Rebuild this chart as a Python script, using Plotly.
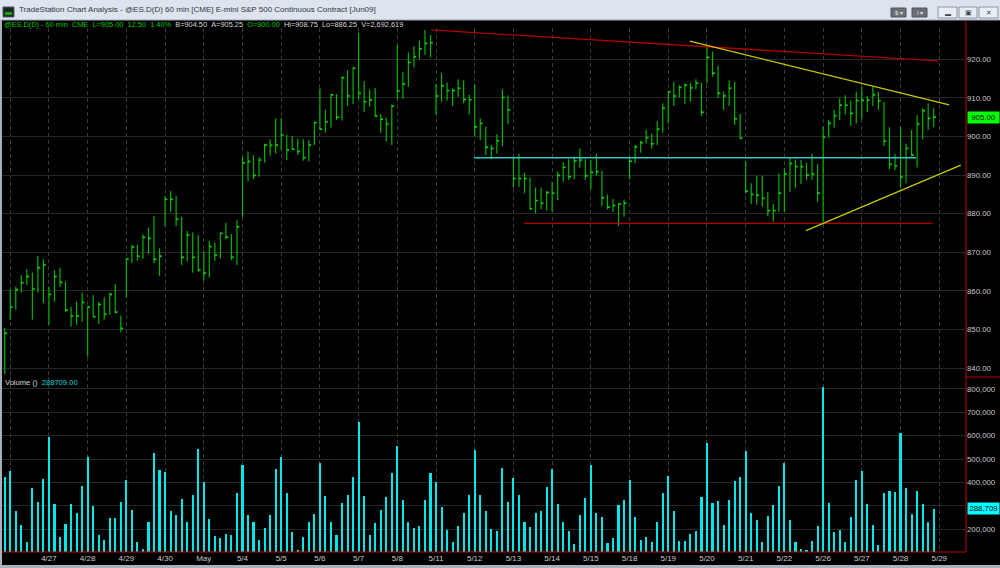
import plotly.graph_objects as go

# ---------------- data ----------------
highs = [850.3, 860.4, 861.1, 864.1, 865.6, 864.7, 869.0, 868.2, 861.1, 865.4,
         866.0, 862.4, 855.8, 857.2, 859.5, 855.9, 858.9, 857.2, 858.3, 859.5,
         861.8, 853.6, 868.4, 871.9, 871.9, 874.7, 876.4, 879.4, 871.0, 884.6,
         885.9, 884.6, 879.2, 875.5, 875.1, 874.5, 870.4, 872.9, 872.5, 875.1,
         877.6, 874.7, 878.3, 894.8, 896.1, 895.2, 894.6, 898.1, 899.3, 904.7,
         904.7, 900.4, 900.1, 899.5, 899.3, 899.1, 903.8, 912.5, 906.9, 911.0,
         911.0, 915.7, 917.2, 917.9, 926.9, 914.4, 912.2, 912.5, 905.8, 904.9,
         908.2, 923.7, 916.8, 921.8, 923.4, 924.8, 927.6, 926.3, 913.6, 916.4,
         914.0, 912.5, 914.8, 914.5, 910.8, 913.6, 904.7, 902.5, 897.8, 900.6,
         912.2, 910.7, 894.8, 895.5, 890.6, 889.4, 886.8, 886.8, 885.9, 888.3,
         890.9, 893.3, 894.1, 894.8, 896.8, 894.1, 893.9, 895.5, 891.1, 885.0,
         883.8, 882.7, 883.7, 894.8, 897.8, 898.9, 901.7, 900.8, 904.0, 908.6,
         911.8, 914.2, 913.3, 913.8, 913.9, 914.8, 913.9, 923.7, 922.0, 918.3,
         911.6, 914.5, 914.2, 905.8, 893.5, 887.9, 889.8, 889.8, 885.7, 882.5,
         890.5, 891.8, 894.6, 894.0, 893.9, 893.2, 895.5, 892.9, 902.5, 904.3,
         906.9, 909.9, 910.7, 909.3, 911.6, 912.9, 910.5, 912.9, 911.6, 909.0,
         902.4, 895.5, 902.5, 898.2, 901.7, 905.6, 907.3, 908.6, 907.3]
lows = [838.5, 852.5, 855.1, 859.5, 861.5, 852.6, 859.5, 856.9, 851.2, 857.2,
        861.1, 854.6, 850.7, 851.2, 852.0, 843.0, 853.3, 851.4, 852.6, 853.8,
        854.2, 849.3, 858.3, 867.3, 867.8, 868.3, 869.6, 867.2, 863.9, 876.8,
        880.5, 876.8, 866.7, 867.6, 864.7, 865.0, 862.6, 863.5, 867.8, 868.4,
        873.4, 868.0, 866.7, 879.2, 888.5, 888.9, 889.6, 893.2, 895.0, 895.5,
        896.5, 893.9, 896.5, 895.2, 893.7, 893.5, 897.8, 901.7, 901.0, 902.3,
        904.3, 904.1, 907.9, 908.4, 909.6, 906.4, 907.7, 905.1, 901.0, 898.7,
        897.8, 909.5, 909.7, 912.9, 917.9, 920.0, 921.1, 920.5, 905.7, 909.0,
        909.3, 907.9, 910.3, 908.6, 905.7, 900.0, 899.1, 895.2, 894.1, 895.6,
        897.5, 903.2, 886.8, 886.9, 885.3, 881.1, 880.1, 881.2, 880.8, 880.5,
        883.5, 888.3, 888.7, 888.9, 892.0, 888.7, 886.3, 889.8, 882.0, 881.1,
        880.5, 876.8, 879.2, 888.9, 893.1, 895.8, 898.2, 896.9, 897.8, 901.0,
        903.4, 907.9, 910.1, 908.4, 909.0, 912.2, 905.3, 913.8, 915.5, 909.9,
        906.9, 907.9, 903.0, 899.3, 885.3, 882.5, 882.3, 881.8, 879.4, 877.9,
        880.5, 880.5, 885.7, 886.6, 887.7, 888.7, 888.7, 883.1, 877.9, 899.7,
        902.3, 904.3, 905.7, 902.7, 903.4, 904.5, 906.4, 907.9, 907.0, 897.5,
        891.5, 891.3, 886.6, 887.9, 894.8, 892.0, 899.3, 901.7, 902.4]
closes = [849.0, 855.8, 860.3, 862.1, 863.7, 860.5, 866.0, 866.7, 859.1, 863.7,
          862.2, 855.0, 853.5, 853.5, 857.0, 855.8, 853.3, 856.5, 854.0, 859.1,
          854.5, 850.3, 868.3, 871.4, 869.0, 873.9, 873.6, 868.2, 869.0, 883.7,
          883.7, 878.6, 868.7, 874.5, 868.7, 865.4, 864.6, 871.5, 869.3, 874.9,
          873.9, 868.7, 876.6, 893.2, 893.5, 889.9, 893.9, 897.8, 897.7, 897.8,
          900.4, 896.5, 896.7, 896.1, 894.5, 897.8, 903.6, 901.9, 903.8, 910.8,
          905.0, 915.2, 910.5, 917.7, 911.2, 909.0, 909.5, 905.3, 904.5, 903.2,
          907.9, 911.8, 913.6, 919.2, 920.7, 922.7, 924.1, 924.3, 910.5, 913.1,
          911.9, 911.9, 912.5, 909.6, 909.5, 902.5, 903.4, 897.2, 896.9, 898.9,
          910.1, 906.9, 889.1, 889.1, 889.1, 881.3, 883.4, 882.7, 885.5, 885.3,
          889.9, 892.0, 889.6, 893.7, 893.9, 889.8, 890.7, 890.9, 884.1, 881.7,
          882.1, 882.5, 882.7, 893.6, 897.3, 898.4, 899.7, 898.1, 901.9, 907.3,
          911.6, 910.5, 912.7, 913.3, 912.6, 913.8, 906.3, 920.5, 916.4, 911.2,
          910.5, 912.5, 904.6, 899.6, 885.8, 885.0, 884.8, 884.0, 880.8, 880.8,
          885.3, 890.3, 893.0, 892.2, 892.2, 890.0, 890.3, 885.3, 899.8, 903.4,
          905.4, 908.1, 908.1, 906.0, 909.3, 909.4, 909.4, 910.8, 909.2, 898.8,
          892.8, 892.4, 889.5, 896.9, 895.2, 903.2, 906.7, 904.7, 905.0]
volumes = [425000, 450700, 279600, 218300, 147000, 375100, 315300, 413600, 593300, 306700,
           168400, 221200, 306700, 268200, 383700, 507700, 298200, 175500, 154200, 246800,
           246800, 318100, 410800, 282500, 144200, 117100, 232600, 524800, 455000, 445000,
           278200, 262500, 329500, 232600, 346600, 543400, 400800, 244000, 171300, 164100,
           179800, 176900, 353800, 474900, 259700, 229700, 152700, 204000, 259700, 457800,
           509200, 353800, 188400, 111400, 168400, 232600, 265400, 484900, 342300, 232600,
           176900, 313800, 346600, 422200, 660300, 342300, 176900, 226900, 282500, 336600,
           440700, 556200, 325200, 229700, 205500, 215500, 325200, 440700, 400800, 295300,
           196900, 145600, 212600, 271100, 345200, 539100, 345200, 276800, 202600, 192700,
           463500, 315300, 419300, 345200, 229700, 211200, 269600, 278200, 380800, 457800,
           306700, 229700, 191200, 135600, 259700, 335200, 474900, 268200, 252500, 141300,
           161300, 303900, 326700, 410800, 253900, 155600, 167000, 147000, 232600, 355200,
           427900, 276800, 149900, 149900, 179800, 194100, 338100, 567600, 312400, 320900,
           218300, 323800, 406500, 423600, 536300, 269600, 238300, 147000, 256800, 303900,
           385100, 483500, 241100, 147000, 115600, 111400, 149900, 212600, 810000, 312400,
           188400, 196900, 144200, 253900, 410800, 450700, 308100, 218300, 132800, 353800,
           365200, 359500, 613200, 375100, 265400, 362300, 308100, 232600, 288709]

# session starts (bar index) and their date labels
day_starts = [1 + 7 * k for k in range(25)]
day_labels = ["", "4/27", "4/28", "4/29", "4/30", "May", "5/4", "5/5", "5/6", "5/7",
              "5/8", "5/11", "5/12", "5/13", "5/14", "5/15", "5/18", "5/19", "5/20",
              "5/21", "5/22", "5/26", "5/27", "5/28", "5/29"]

price_ticks = [840, 850, 860, 870, 880, 890, 900, 910, 920]
volume_ticks = [200000, 300000, 400000, 500000, 600000, 700000, 800000]
volume_ticktext = ["200,000", "", "400,000", "500,000", "600,000", "700,000", "800,000"]

# drawn trend lines (bar index, price)
red_top_x, red_top_y = [77.1, 168.8], [927.6, 919.6]
red_sup_x, red_sup_y = [93.9, 167.8], [877.5, 877.5]
cyan_x, cyan_y = [84.9, 164.8], [894.5, 894.5]
yel_top_x, yel_top_y = [123.9, 170.8], [924.7, 908.2]
yel_bot_x, yel_bot_y = [144.9, 172.9], [875.6, 892.6]

last_price = 905.00
last_volume = 288709

# ---------------- figure ----------------
W, H = 1000, 568
def px(x):
    return x / W
def py(y):
    return 1 - y / H

GREEN = "#00b400"
TICKG = "#00e000"
FONT = "Liberation Sans"
AX = 7.8

bx, by, tx, ty = [], [], [], []
for i, (h, l, c) in enumerate(zip(highs, lows, closes)):
    bx += [i, i, None]
    by += [l, h, None]
    tx += [i, i + 0.42, None]
    ty += [c, c, None]

fig = go.Figure()
fig.add_trace(go.Scatter(x=bx, y=by, mode="lines", line=dict(color=GREEN, width=1.2),
                         hoverinfo="skip", xaxis="x", yaxis="y"))
fig.add_trace(go.Scatter(x=tx, y=ty, mode="lines", line=dict(color=TICKG, width=1.6),
                         hoverinfo="skip", xaxis="x", yaxis="y"))
for lx, ly, col in [(red_top_x, red_top_y, "#b00000"), (red_sup_x, red_sup_y, "#b00000"),
                    (cyan_x, cyan_y, "#30c8c8"), (yel_top_x, yel_top_y, "#c8c800"),
                    (yel_bot_x, yel_bot_y, "#c8c800")]:
    fig.add_trace(go.Scatter(x=lx, y=ly, mode="lines", line=dict(color=col, width=1.3),
                             hoverinfo="skip", xaxis="x", yaxis="y"))

fig.add_trace(go.Bar(x=list(range(len(volumes))), y=volumes, width=0.38,
                     marker=dict(color="#00e8e8", line=dict(width=0)),
                     xaxis="x2", yaxis="y2", hoverinfo="skip"))

xr = [-0.488, 173.84]
dom_x = [px(2), px(966)]
fig.update_layout(
    width=W, height=H, margin=dict(l=0, r=0, t=0, b=0, autoexpand=False),
    paper_bgcolor="black", plot_bgcolor="black", showlegend=False, bargap=0,
    xaxis=dict(domain=dom_x, range=xr, anchor="y", tickvals=day_starts, showticklabels=False,
               showgrid=True, gridcolor="#3a3a3a", griddash="4px,3px", gridwidth=1,
               zeroline=False, showline=False, ticks=""),
    yaxis=dict(domain=[py(376), py(28)], range=[837.95, 928.11], side="right", anchor="x",
               tickvals=price_ticks, tickformat=".2f", showgrid=True, gridcolor="#262626",
               zeroline=False, showline=False, ticks="", automargin=False,
               tickfont=dict(family=FONT, size=AX, color="#c8c8c8")),
    xaxis2=dict(domain=dom_x, range=xr, anchor="y2", tickvals=day_starts, ticktext=day_labels,
                showgrid=True, gridcolor="#3a3a3a", griddash="4px,3px", gridwidth=1,
                zeroline=False, showline=False, ticks="", automargin=False,
                tickfont=dict(family=FONT, size=8, color="#c8c8c8")),
    yaxis2=dict(domain=[py(552), py(377)], range=[102800, 851300], side="right", anchor="x2",
                tickvals=volume_ticks, ticktext=volume_ticktext,
                showgrid=True, gridcolor="#262626", zeroline=False, showline=False, ticks="",
                automargin=False, tickfont=dict(family=FONT, size=AX, color="#c8c8c8")),
)

shapes = []
# window title bar
shapes.append(dict(type="rect", xref="paper", yref="paper", x0=0, x1=1, y0=py(20), y1=1,
                   fillcolor="#dde4ed", line=dict(width=0), layer="above"))
shapes.append(dict(type="line", xref="paper", yref="paper", x0=0, x1=1, y0=py(20), y1=py(20),
                   line=dict(color="#9aa6b4", width=1), layer="above"))
# icon
shapes.append(dict(type="rect", xref="paper", yref="paper", x0=px(3), x1=px(14), y0=py(17), y1=py(7),
                   fillcolor="#1a2a1a", line=dict(color="#4a5a6a", width=1), layer="above"))
shapes.append(dict(type="rect", xref="paper", yref="paper", x0=px(5), x1=px(12), y0=py(15), y1=py(12),
                   fillcolor="#20a020", line=dict(width=0), layer="above"))
# toolbar buttons
for x0, x1 in [(891, 906), (912, 927)]:
    shapes.append(dict(type="rect", xref="paper", yref="paper", x0=px(x0), x1=px(x1), y0=py(17), y1=py(8),
                       fillcolor="#6a6f76", line=dict(color="#50555c", width=1), layer="above"))
for x0, x1 in [(938, 957), (959, 977), (979, 998)]:
    shapes.append(dict(type="rect", xref="paper", yref="paper", x0=px(x0), x1=px(x1), y0=py(18), y1=py(7),
                       fillcolor="#e8edf3", line=dict(color="#8c96a2", width=1), layer="above"))
# window borders
shapes.append(dict(type="rect", xref="paper", yref="paper", x0=0, x1=px(2), y0=0, y1=py(20),
                   fillcolor="#a8b0ba", line=dict(width=0), layer="above"))
shapes.append(dict(type="rect", xref="paper", yref="paper", x0=0, x1=1, y0=0, y1=py(565),
                   fillcolor="#a8b0ba", line=dict(width=0), layer="above"))
# red axis lines
shapes.append(dict(type="line", xref="paper", yref="paper", x0=px(966), x1=px(966), y0=py(552), y1=py(20),
                   line=dict(color="#c00000", width=1), layer="above"))
shapes.append(dict(type="line", xref="paper", yref="paper", x0=px(2), x1=px(966), y0=py(552), y1=py(552),
                   line=dict(color="#c00000", width=1), layer="above"))
shapes.append(dict(type="line", xref="paper", yref="paper", x0=px(966), x1=1, y0=py(377), y1=py(377),
                   line=dict(color="#c00000", width=1), layer="above"))
fig.update_layout(shapes=shapes)

ann = []
ann.append(dict(xref="paper", yref="paper", x=px(17), y=py(10), xanchor="left", yanchor="middle",
                showarrow=False, font=dict(family=FONT, size=8.0, color="#303840"),
                text="TradeStation Chart Analysis - @ES.D(D) 60 min [CME] E-mini S&P 500 Continuous Contract [Jun09]"))
ann.append(dict(xref="paper", yref="paper", x=px(898.5), y=py(12.5), xanchor="center", yanchor="middle",
                showarrow=False, font=dict(family=FONT, size=6, color="#e0e0e0"), text="$ ▾"))
ann.append(dict(xref="paper", yref="paper", x=px(919.5), y=py(12.5), xanchor="center", yanchor="middle",
                showarrow=False, font=dict(family=FONT, size=6, color="#e0e0e0"), text="I ▾"))
ann.append(dict(xref="paper", yref="paper", x=px(947.5), y=py(13.5), xanchor="center", yanchor="middle",
                showarrow=False, font=dict(family=FONT, size=6, color="#404850"), text="▬"))
ann.append(dict(xref="paper", yref="paper", x=px(968), y=py(12.5), xanchor="center", yanchor="middle",
                showarrow=False, font=dict(family=FONT, size=7, color="#404850"), text="▣"))
ann.append(dict(xref="paper", yref="paper", x=px(988.5), y=py(12.5), xanchor="center", yanchor="middle",
                showarrow=False, font=dict(family=FONT, size=7, color="#404850"), text="✕"))
G, Wt = "#00c800", "#d8d8d8"
sp = "&nbsp;&nbsp;"
hdr = (f"<span style='color:{G}'>@ES.D(D) - 60 min{sp}CME{sp}L=905.00{sp}12.50{sp}1.40%</span>"
       f"{sp}<span style='color:{Wt}'>B=904.50{sp}A=905.25</span>{sp}"
       f"<span style='color:{G}'>O=900.00</span>{sp}"
       f"<span style='color:{Wt}'>Hi=908.75{sp}Lo=886.25{sp}V=2,692,619</span>")
ann.append(dict(xref="paper", yref="paper", x=px(2), y=py(24.5), xanchor="left", yanchor="middle",
                showarrow=False, font=dict(family=FONT, size=7.4, color=G), text=hdr))
ann.append(dict(xref="paper", yref="paper", x=px(3), y=py(382.5), xanchor="left", yanchor="middle",
                showarrow=False, font=dict(family=FONT, size=7.6, color=Wt),
                text=f"Volume (){sp}<span style='color:#00d8d8'>288709.00</span>"))
ann.append(dict(xref="paper", yref="y", x=px(966.5), y=last_price, xanchor="left", yanchor="middle",
                showarrow=False, bgcolor="#00ff00", width=31, height=11, borderpad=0,
                font=dict(family=FONT, size=AX, color="black"), text=f"{last_price:.2f}"))
ann.append(dict(xref="paper", yref="y2", x=px(966.5), y=last_volume, xanchor="left", yanchor="middle",
                showarrow=False, bgcolor="#00ffff", width=31, height=11, borderpad=0,
                font=dict(family=FONT, size=AX, color="black"), text=f"{last_volume:,}"))
fig.update_layout(annotations=ann)

fig.write_html("out.html", config={"displayModeBar": False},
               post_script="document.body.style.margin='0';document.body.style.padding='0';"
                           "document.body.style.background='black';")
